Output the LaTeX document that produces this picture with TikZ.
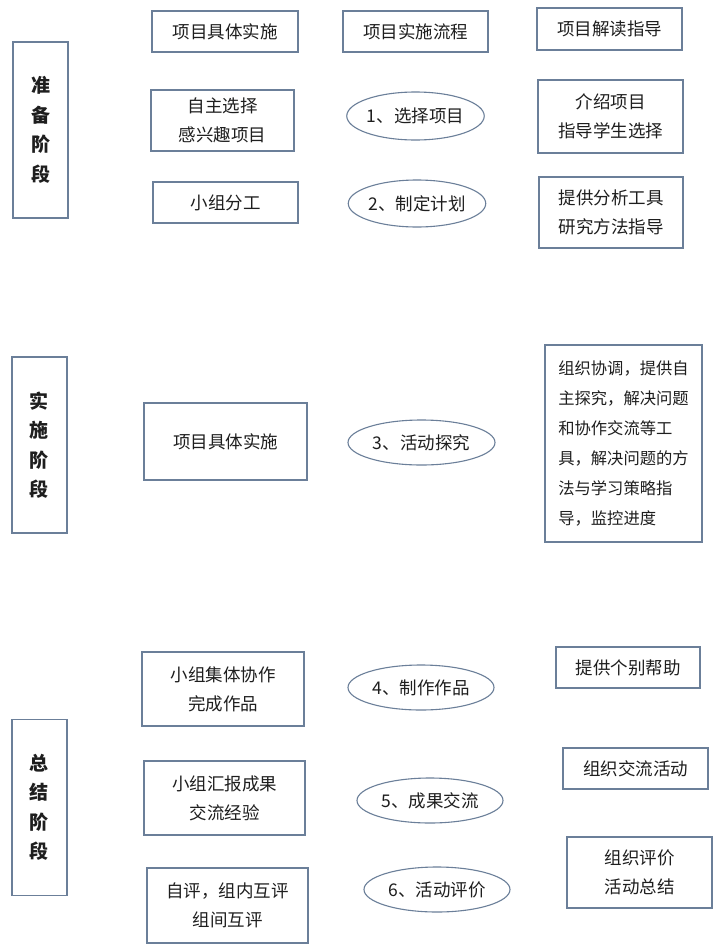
\documentclass[tikz,border=0pt]{standalone}
\usepackage{fontspec}
\setmainfont{Noto Sans CJK SC}
\usetikzlibrary{shapes.geometric}
\definecolor{boxline}{HTML}{6B7F99}
\definecolor{inktext}{HTML}{1E1E1E}

\begin{document}
\begin{tikzpicture}[x=1pt,y=-1pt,
	box/.style={draw=boxline, line width=1.4pt, text=inktext, align=center,
		inner sep=0pt, font=\fontsize{17.5}{29}\selectfont},
	stagebox/.style={box, minimum width=55pt, minimum height=176pt,
		font=\fontsize{19}{29.5}\selectfont\bfseries},
	stepell/.style={draw=boxline, ellipse, line width=1.1pt, text=inktext,
		inner sep=0pt, font=\fontsize{17.5}{20}\selectfont}]
			%%%%% START %%%%%
			
			\useasboundingbox[fill=white] (0,0) rectangle (720,951);
			
			% stages
			\node[stagebox] (prep) at (40.5,130) {准\\备\\阶\\段};
			\node[stagebox] (impl) at (39.5,445) {实\\施\\阶\\段};
			\node[stagebox] (summ) at (39.5,807.5) {总\\结\\阶\\段};
			
			% header
			\node[box, minimum width=146pt, minimum height=41pt] (head1) at (225,31.5) {项目具体实施};
			\node[box, minimum width=145pt, minimum height=41pt] (head2) at (415.5,31.5) {项目实施流程};
			\node[box, minimum width=145pt, minimum height=42pt] (head3) at (609.5,29) {项目解读指导};
			
			% preparation
			\node[box, minimum width=143pt, minimum height=61pt] (stud1) at (222.5,120.5) {自主选择\\感兴趣项目};
			\node[stepell, minimum width=137pt, minimum height=48pt] (flow1) at (415.5,116) {1、选择项目};
			\node[box, minimum width=145pt, minimum height=73pt] (teach1) at (610.5,116.5) {介绍项目\\指导学生选择};
			
			\node[box, minimum width=145pt, minimum height=41pt] (stud2) at (225.5,202.5) {小组分工};
			\node[stepell, minimum width=134pt, minimum height=47pt] (flow2) at (417,203.5) {2、制定计划};
			\node[box, minimum width=144pt, minimum height=71pt] (teach2) at (611,212.5) {提供分析工具\\研究方法指导};
			
			% implementation
			\node[box, minimum width=163pt, minimum height=77pt] (stud3) at (225.5,441.5) {项目具体实施};
			\node[stepell, minimum width=147pt, minimum height=45pt] (flow3) at (421.5,442.5) {3、活动探究};
			\node[box, minimum width=157pt, minimum height=197pt, align=left,
				font=\fontsize{16.3}{30}\selectfont] (teach3) at (623.5,443.5)
				{组织协调，提供自\\主探究，解决问题\\和协作交流等工\\具，解决问题的方\\法与学习策略指\\导，监控进度};
			
			% summary
			\node[box, minimum width=162pt, minimum height=74pt] (stud4) at (223,689) {小组集体协作\\完成作品};
			\node[stepell, minimum width=146pt, minimum height=45pt] (flow4) at (421,687.5) {4、制作作品};
			\node[box, minimum width=144pt, minimum height=41pt] (teach4) at (628,667.5) {提供个别帮助};
			
			\node[box, minimum width=161pt, minimum height=74pt] (stud5) at (224.5,798) {小组汇报成果\\交流经验};
			\node[stepell, minimum width=146pt, minimum height=45pt] (flow5) at (430,800.5) {5、成果交流};
			\node[box, minimum width=145pt, minimum height=41pt] (teach5) at (635.5,768.5) {组织交流活动};
			
			\node[box, minimum width=161pt, minimum height=75pt] (stud6) at (227.5,905.5) {自评，组内互评\\组间互评};
			\node[stepell, minimum width=146pt, minimum height=45pt] (flow6) at (437,889.5) {6、活动评价};
			\node[box, minimum width=145pt, minimum height=71pt] (teach6) at (639.5,872.5) {组织评价\\活动总结};
			
			%%%%% END %%%%%
\end{tikzpicture}
\end{document}
